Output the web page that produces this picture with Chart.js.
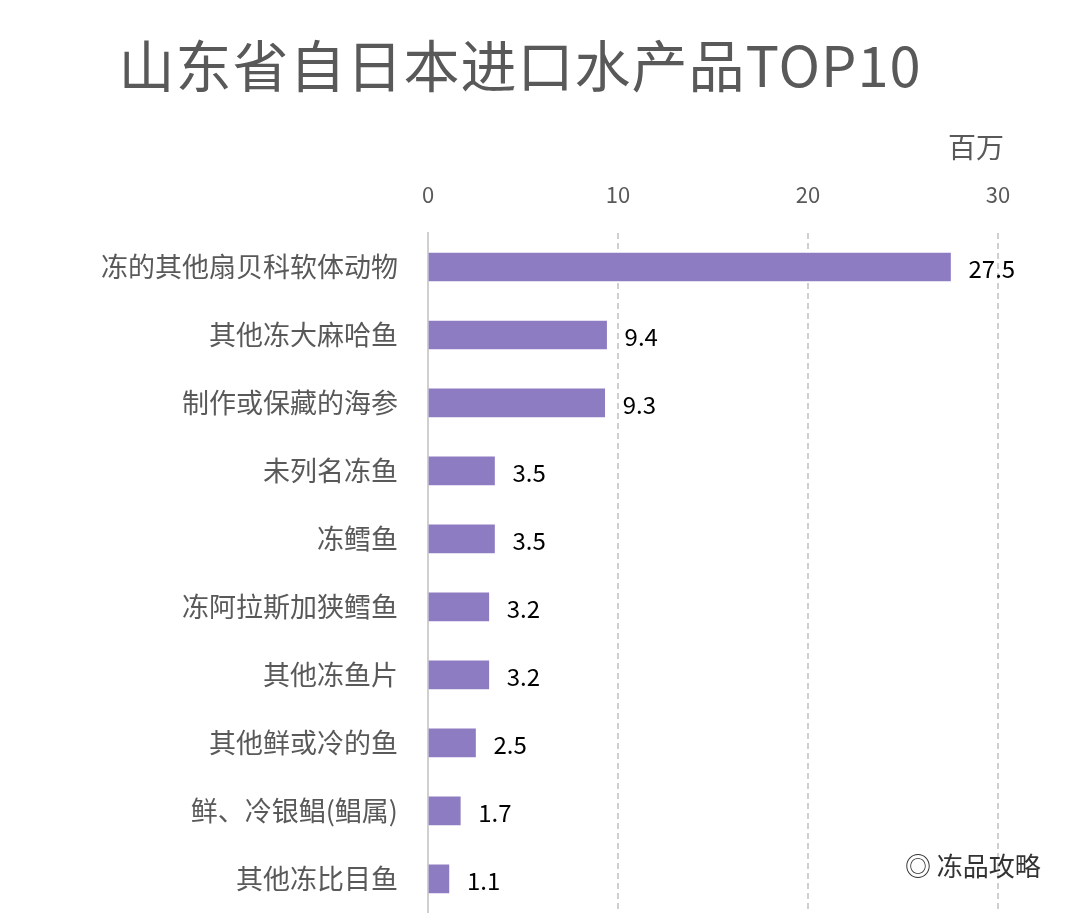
<!DOCTYPE html>
<html><head><meta charset="utf-8">
<script src="https://cdn.jsdelivr.net/npm/chart.js@4/dist/chart.umd.min.js"></script>
<style>
html,body{margin:0;padding:0;background:#fff;width:1080px;height:914px;overflow:hidden;font-family:"Noto Sans CJK SC","Noto Sans",sans-serif}
#wrap{position:absolute;left:0;top:0;width:1080px;height:914px;overflow:hidden}
#title{position:absolute;left:0;width:1040px;top:22px;text-align:center;font-size:56px;color:#595959;letter-spacing:1px}
#unit{position:absolute;left:948px;top:126px;font-size:28px;color:#595959}
#wm{position:absolute;left:905px;top:846px;font-size:26px;color:#333}
</style></head><body>
<div id="wrap"><canvas id="c" width="1080" height="951"></canvas></div>
<div id="title">山东省自日本进口水产品TOP10</div>
<div id="unit">百万</div>
<div id="wm">◎ 冻品攻略</div>
<script>
const categories=["冻的其他扇贝科软体动物","其他冻大麻哈鱼","制作或保藏的海参","未列名冻鱼","冻鳕鱼","冻阿拉斯加狭鳕鱼","其他冻鱼片","其他鲜或冷的鱼","鲜、冷银鲳(鲳属)","其他冻比目鱼"];
const values=[27.5,9.4,9.3,3.5,3.5,3.2,3.2,2.5,1.7,1.1];
const xTicks=[0,10,20,30];
const labelPlugin={id:'lbl',afterDatasetsDraw(ch){const ctx=ch.ctx;const meta=ch.getDatasetMeta(0);ctx.save();ctx.font='24px "Noto Sans CJK SC"';ctx.fillStyle='#000';ctx.textBaseline='middle';meta.data.forEach((b,i)=>{ctx.fillText(values[i].toFixed(1),b.x+18,b.y+2);});ctx.restore();}};
new Chart(document.getElementById('c'),{type:'bar',data:{labels:categories,datasets:[{data:values,backgroundColor:'#8e7cc3',barThickness:28}]},
options:{indexAxis:'y',responsive:false,animation:false,layout:{padding:{left:0,right:82,top:0,bottom:1}},
plugins:{legend:{display:false},tooltip:{enabled:false}},
scales:{x:{position:'top',min:0,max:30,afterBuildTicks(a){a.ticks=xTicks.map(v=>({value:v}));},afterFit(a){a.height=233;},
ticks:{font:{size:22,family:'Noto Sans CJK SC'},color:'#595959',padding:25},
grid:{color:'#d0d0d0',lineWidth:2,drawTicks:false},border:{display:false,dash:[6,4]}},
y:{afterFit(a){a.width=428;},ticks:{font:{size:27,family:'Noto Sans CJK SC'},color:'#595959',padding:22},grid:{display:false},border:{color:'#d0d0d0',width:2}}}},
plugins:[labelPlugin]});
</script></body></html>
